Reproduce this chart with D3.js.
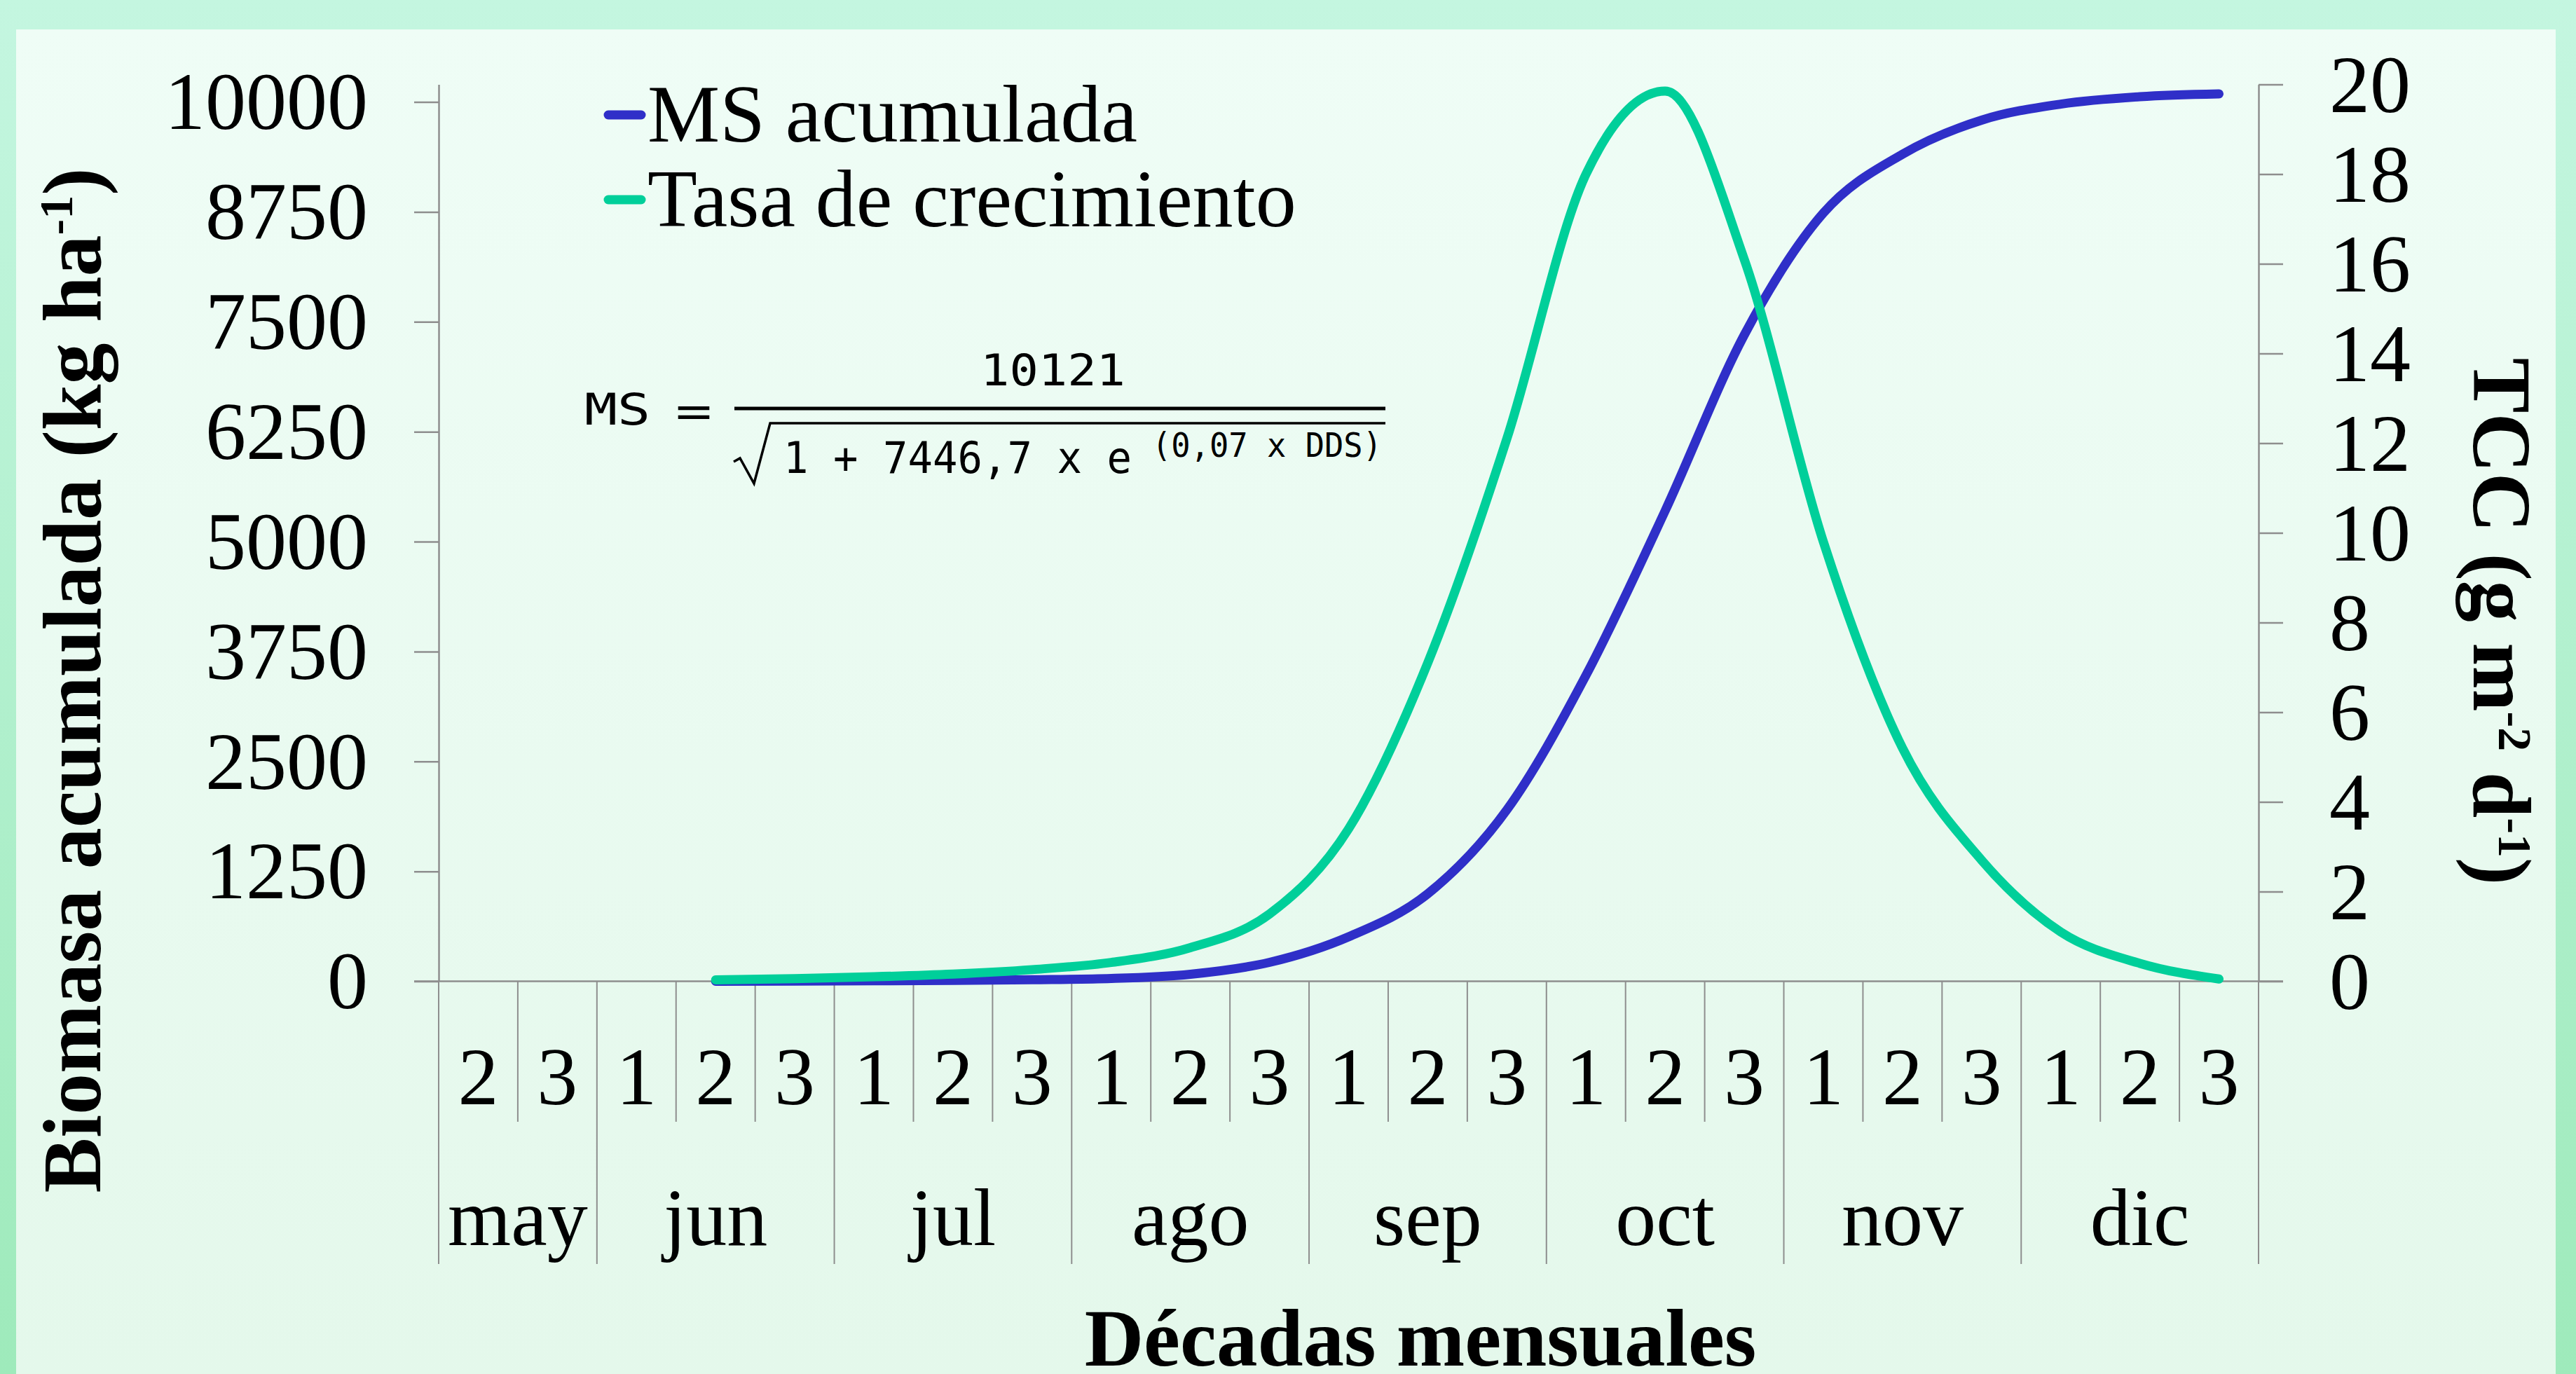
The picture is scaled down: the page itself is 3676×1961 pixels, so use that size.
<!DOCTYPE html>
<html>
<head>
<meta charset="utf-8">
<script src="https://cdnjs.cloudflare.com/ajax/libs/d3/7.8.5/d3.min.js"></script>
<style>
  body { margin: 0; background: #c4f6e0; }
  svg { display: block; }
  .serif { font-family: "Liberation Serif", "Times New Roman", serif; fill: #000; }
  .mono { font-family: "DejaVu Sans Mono", "Liberation Mono", monospace; fill: #000; }
</style>
</head>
<body>
<div id="chart"></div>
<script>

// decades of each month, shown under the axis
var decades = ["2","3","1","2","3","1","2","3","1","2","3","1","2","3","1","2","3","1","2","3","1","2","3"]
var months = ["may","jun","jul","ago","sep","oct","nov","dic"]
var monthSpans = [2,3,3,3,3,3,3,3]

// MS acumulada (kg ha-1), left axis
var msValues = [null,null,null,0,2,5,10,18,32,80,215,506,995,1950,3480,5350,7350,8737,9406,9794,9976,10060,10092]
// Tasa de crecimiento (g m-2 d-1), right axis
var tccValues = [null,null,null,0.03,0.06,0.1,0.16,0.26,0.42,0.75,1.5,3.4,7.1,12.1,18.0,19.85,16.1,9.8,5.2,2.7,1.1,0.4,0.05]

var leftTicks = [0,1250,2500,3750,5000,6250,7500,8750,10000]
var rightTicks = [0,2,4,6,8,10,12,14,16,18,20]
var seriesNames = ["MS acumulada", "Tasa de crecimiento"]

var config = {
  width: 3676,
  height: 1961,
  plot: { left: 626, right: 3223, top: 120.5, bottom: 1400.5 },
  leftMax: 10200,
  rightMax: 20,
  blue: "#2f2fc8",
  teal: "#00cf9a",
  axis: "#8e8e8e",
  fontSize: 116
}

var svg = d3.select("#chart").append("svg")
    .attr("width", config.width)
    .attr("height", config.height)

// background gradients
var defs = svg.append("defs")
var outerGrad = defs.append("linearGradient").attr("id", "outerGrad").attr("x1", 0).attr("y1", 0).attr("x2", 0).attr("y2", 1)
outerGrad.append("stop").attr("offset", "0%").attr("stop-color", "#c4f6e0")
outerGrad.append("stop").attr("offset", "100%").attr("stop-color", "#9eeabb")
var innerGrad = defs.append("linearGradient").attr("id", "innerGrad").attr("x1", 0).attr("y1", 0).attr("x2", 0).attr("y2", 1)
innerGrad.append("stop").attr("offset", "0%").attr("stop-color", "#effdf6")
innerGrad.append("stop").attr("offset", "100%").attr("stop-color", "#e4f8eb")

svg.append("rect").attr("width", config.width).attr("height", config.height).attr("fill", "url(#outerGrad)")
svg.append("rect").attr("x", 23).attr("y", 42).attr("width", 3624).attr("height", config.height - 42).attr("fill", "url(#innerGrad)")

var p = config.plot
var x = d3.scaleBand().domain(d3.range(decades.length)).range([p.left, p.right]).padding(0)
var yLeft = d3.scaleLinear().domain([0, config.leftMax]).range([p.bottom, p.top])
var yRight = d3.scaleLinear().domain([0, config.rightMax]).range([p.bottom, p.top])

// left axis
var gLeft = svg.append("g")
    .attr("transform", "translate(" + p.left + ",0)")
    .call(d3.axisLeft(yLeft).tickValues(leftTicks).tickSize(35).tickSizeOuter(0).tickPadding(66).tickFormat(d3.format("d")))
gLeft.selectAll("text")
    .attr("class", "serif")
    .attr("dy", "0.33em")
    .style("font-size", config.fontSize + "px")

// right axis
var gRight = svg.append("g")
    .attr("transform", "translate(" + p.right + ",0)")
    .call(d3.axisRight(yRight).tickValues(rightTicks).tickSize(35).tickSizeOuter(0).tickPadding(66))
gRight.selectAll("text")
    .attr("class", "serif")
    .attr("dy", "0.34em")
    .style("font-size", config.fontSize + "px")

svg.selectAll(".domain, .tick line")
    .attr("stroke", config.axis)
    .attr("stroke-width", 2.5)

// category axis: baseline, decade and month separators
var gx = svg.append("g")
gx.append("line")
    .attr("x1", p.left - 35).attr("x2", p.right + 35)
    .attr("y1", p.bottom).attr("y2", p.bottom)
    .attr("stroke", config.axis).attr("stroke-width", 2.5)

var monthStarts = [0]
monthSpans.forEach(function(s, i){ monthStarts.push(monthStarts[i] + s) })

var bounds = d3.range(decades.length + 1)
gx.selectAll(".sep")
    .data(bounds)
  .enter().append("line")
    .attr("class", "sep")
    .attr("x1", function(k){ return k < decades.length ? x(k) : p.right })
    .attr("x2", function(k){ return k < decades.length ? x(k) : p.right })
    .attr("y1", p.bottom)
    .attr("y2", function(k){ return monthStarts.indexOf(k) !== -1 ? 1804 : 1601 })
    .attr("stroke", config.axis)
    .attr("stroke-width", 2)

gx.selectAll(".decade")
    .data(decades)
  .enter().append("text")
    .attr("class", "serif")
    .attr("x", function(d, i){ return x(i) + x.bandwidth() / 2 })
    .attr("y", 1576)
    .attr("text-anchor", "middle")
    .style("font-size", config.fontSize + "px")
    .text(function(d){ return d })

gx.selectAll(".month")
    .data(months)
  .enter().append("text")
    .attr("class", "serif")
    .attr("x", function(d, i){
      var a = x(monthStarts[i])
      var b = monthStarts[i + 1] < decades.length ? x(monthStarts[i + 1]) : p.right
      return (a + b) / 2
    })
    .attr("y", 1777)
    .attr("text-anchor", "middle")
    .style("font-size", config.fontSize + "px")
    .text(function(d){ return d })

// lines (smoothed)
var lineLeft = d3.line()
    .defined(function(d){ return d != null })
    .x(function(d, i){ return x(i) + x.bandwidth() / 2 })
    .y(function(d){ return yLeft(d) })
    .curve(d3.curveMonotoneX)
var lineRight = d3.line()
    .defined(function(d){ return d != null })
    .x(function(d, i){ return x(i) + x.bandwidth() / 2 })
    .y(function(d){ return yRight(d) })
    .curve(d3.curveMonotoneX)

svg.append("path")
    .attr("d", lineLeft(msValues))
    .attr("fill", "none").attr("stroke", config.blue)
    .attr("stroke-width", 13).attr("stroke-linecap", "round").attr("stroke-linejoin", "round")
svg.append("path")
    .attr("d", lineRight(tccValues))
    .attr("fill", "none").attr("stroke", config.teal)
    .attr("stroke-width", 13).attr("stroke-linecap", "round").attr("stroke-linejoin", "round")

// legend
var legend = svg.append("g").selectAll("g")
    .data(seriesNames)
  .enter().append("g")
    .attr("transform", function(d, i){ return "translate(0," + (i * 121) + ")" })
legend.append("line")
    .attr("x1", 868).attr("x2", 915).attr("y1", 164).attr("y2", 164)
    .attr("stroke", function(d, i){ return i === 0 ? config.blue : config.teal })
    .attr("stroke-width", 13).attr("stroke-linecap", "round")
legend.append("text")
    .attr("class", "serif")
    .attr("x", 924).attr("y", 202)
    .style("font-size", config.fontSize + "px")
    .text(function(d){ return d })

// axis titles
var t1 = svg.append("text")
    .attr("class", "serif")
    .attr("transform", "translate(143,971) rotate(-90)")
    .attr("text-anchor", "middle")
    .style("font-size", "118px").style("font-weight", "bold")
t1.append("tspan").text("Biomasa acumulada (kg ha")
t1.append("tspan").attr("dy", -40).style("font-size", "68px").text("-1")
t1.append("tspan").attr("dy", 40).text(")")

var t2 = svg.append("text")
    .attr("class", "serif")
    .attr("transform", "translate(3530,887) rotate(90)")
    .attr("text-anchor", "middle")
    .style("font-size", "118px").style("font-weight", "bold")
t2.append("tspan").text("TCC (g m")
t2.append("tspan").attr("dy", -36).style("font-size", "68px").text("-2")
t2.append("tspan").attr("dy", 36).text(" d")
t2.append("tspan").attr("dy", -36).style("font-size", "68px").text("-1")
t2.append("tspan").attr("dy", 36).text(")")

svg.append("text")
    .attr("class", "serif")
    .attr("x", 2027).attr("y", 1949)
    .attr("text-anchor", "middle")
    .style("font-size", "117px").style("font-weight", "bold")
    .text("Décadas mensuales")

// fitted equation
var eq = svg.append("g")
eq.append("text").attr("class", "mono").attr("x", 834).attr("y", 606)
    .attr("textLength", 94).attr("lengthAdjust", "spacingAndGlyphs")
    .style("font-size", "63px").text("MS")
eq.append("text").attr("class", "mono").attr("x", 964).attr("y", 609)
    .attr("textLength", 52).attr("lengthAdjust", "spacingAndGlyphs")
    .style("font-size", "63px").text("=")
eq.append("text").attr("class", "mono").attr("x", 1399).attr("y", 550)
    .attr("textLength", 207).attr("lengthAdjust", "spacingAndGlyphs")
    .style("font-size", "63px").text("10121")
eq.append("line").attr("x1", 1048).attr("x2", 1977).attr("y1", 583).attr("y2", 583)
    .attr("stroke", "#000").attr("stroke-width", 5)
eq.append("path").attr("d", "M1047,659 L1056,654 L1076,690 L1099,604 L1977,604")
    .attr("fill", "none").attr("stroke", "#000").attr("stroke-width", 3.5)
eq.append("text").attr("class", "mono").attr("x", 1118).attr("y", 675)
    .attr("textLength", 497).attr("lengthAdjust", "spacingAndGlyphs")
    .style("font-size", "63px").text("1 + 7446,7 x e")
eq.append("text").attr("class", "mono").attr("x", 1644).attr("y", 652)
    .attr("textLength", 328).attr("lengthAdjust", "spacingAndGlyphs")
    .style("font-size", "48px").text("(0,07 x DDS)")

</script>
</body>
</html>
